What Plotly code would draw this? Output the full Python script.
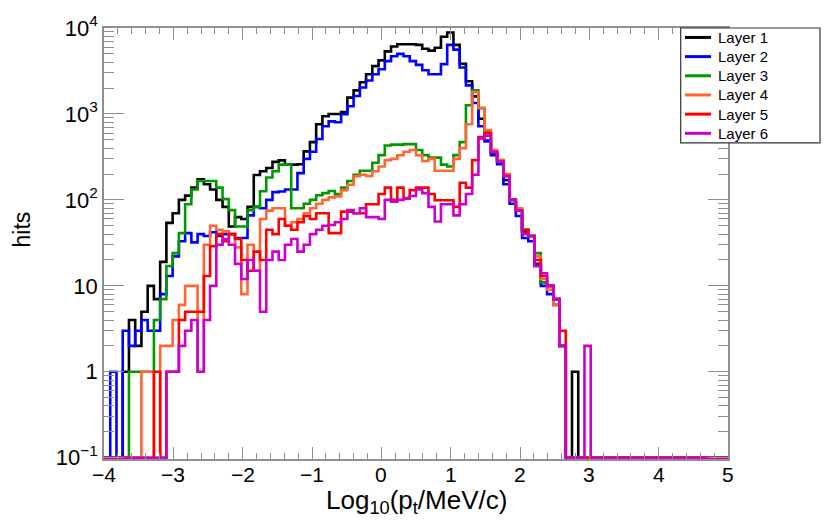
import plotly.graph_objects as go

# ---------------- data ----------------
X_MIN, X_MAX, N_BINS = -4.0, 5.0, 100
layer_names = ["Layer 1", "Layer 2", "Layer 3", "Layer 4", "Layer 5", "Layer 6"]
layer_colors = ["#000000", "#0000ff", "#009900", "#ff6633", "#ff0000", "#cc00cc"]

layer1 = [0, 0, 0, 1, 4, 2, 5, 10, 7, 19,
          54, 70, 100, 112, 139, 174, 152, 132, 100, 83,
          49, 63, 60, 83, 195, 215, 235, 277, 288, 257,
          257, 260, 367, 470, 760, 940, 1000, 1000, 1050, 1550,
          1880, 2340, 2900, 3600, 4200, 5350, 6100, 6470, 6470, 6470,
          6360, 5730, 5450, 5900, 7900, 8850, 6360, 3840, 2400, 1600,
          880, 490, 350, 283, 170, 100, 75, 43, 38, 18,
          11, 10, 7, 2, 0, 1, 0, 0, 0, 0,
          0, 0, 0, 0, 0, 0, 0, 0, 0, 0,
          0, 0, 0, 0, 0, 0, 0, 0, 0, 0]
layer2 = [0, 1, 0, 3, 2, 3, 4, 3, 3, 8,
          13, 22, 33, 41, 32, 40, 38, 42, 38, 40,
          40, 36, 36, 66, 83, 80, 100, 123, 125, 132,
          132, 205, 300, 363, 510, 720, 820, 800, 990, 1230,
          1620, 2030, 2450, 2900, 3310, 4120, 4700, 5000, 4700, 4120,
          3720, 3230, 2900, 2900, 3800, 6360, 5600, 3470, 2150, 1340,
          720, 480, 330, 260, 152, 90, 65, 36, 33, 17,
          10, 8, 6, 2, 0, 0, 0, 0, 0, 0,
          0, 0, 0, 0, 0, 0, 0, 0, 0, 0,
          0, 0, 0, 0, 0, 0, 0, 0, 0, 0]
layer3 = [0, 0, 0, 0, 1, 1, 1, 1, 4, 7,
          17, 24, 41, 89, 132, 166, 166, 166, 139, 102,
          76, 49, 49, 76, 83, 126, 182, 215, 257, 257,
          80, 80, 90, 100, 113, 120, 127, 117, 139, 166,
          196, 218, 218, 270, 332, 430, 440, 440, 445, 445,
          380, 332, 310, 310, 257, 245, 332, 470, 1260, 1880,
          1170, 630, 360, 290, 190, 100, 75, 45, 38, 24,
          11, 10, 7, 2, 0, 0, 0, 0, 0, 0,
          0, 0, 0, 0, 0, 0, 0, 0, 0, 0,
          0, 0, 0, 0, 0, 0, 0, 0, 0, 0]
layer4 = [0, 0, 0, 0, 0, 0, 1, 1, 0, 2,
          2, 4, 6, 10, 10, 1, 30, 50, 45, 43,
          40, 28, 8, 30, 15, 60, 75, 80, 80, 50,
          55, 60, 70, 80, 90, 100, 107, 110, 130, 150,
          188, 196, 190, 215, 245, 290, 300, 330, 363, 380,
          330, 283, 300, 218, 218, 218, 300, 400, 760, 1800,
          1170, 650, 380, 290, 200, 100, 80, 45, 38, 22,
          12, 9, 6, 2, 0, 0, 0, 0, 0, 0,
          0, 0, 0, 0, 0, 0, 0, 0, 0, 0,
          0, 0, 0, 0, 0, 0, 0, 0, 0, 0]
layer5 = [0, 0, 0, 0, 0, 0, 0, 0, 1, 0,
          1, 1, 4, 5, 5, 5, 13, 29, 40, 33,
          40, 35, 20, 15, 25, 20, 45, 40, 60, 50,
          45, 55, 65, 60, 70, 70, 41, 41, 73, 73,
          70, 70, 89, 89, 117, 139, 100, 139, 105, 130,
          139, 139, 117, 99, 99, 99, 83, 158, 139, 290,
          540, 600, 360, 280, 190, 100, 75, 45, 38, 20,
          13, 10, 7, 3, 0, 0, 0, 0, 0, 0,
          0, 0, 0, 0, 0, 0, 0, 0, 0, 0,
          0, 0, 0, 0, 0, 0, 0, 0, 0, 0]
layer6 = [0, 0, 0, 0, 0, 0, 0, 0, 0, 0,
          1, 1, 2, 3, 4, 1, 4, 10, 30, 35,
          30, 18, 12, 20, 15, 5, 20, 25, 20, 30,
          35, 25, 30, 40, 45, 50, 51, 55, 60, 76,
          70, 80, 63, 63, 60, 100, 95, 100, 103, 111,
          132, 120, 83, 56, 89, 89, 66, 89, 117, 196,
          515, 560, 360, 280, 190, 100, 75, 40, 38, 17,
          14, 10, 7, 2, 0, 0, 0, 2, 0, 0,
          0, 0, 0, 0, 0, 0, 0, 0, 0, 0,
          0, 0, 0, 0, 0, 0, 0, 0, 0, 0]

y_tick_vals = [0.1, 1, 10, 100, 1000, 10000]
y_tick_text = ["10<sup>\u22121</sup>", "1", "10", "10<sup>2</sup>", "10<sup>3</sup>", "10<sup>4</sup>"]
x_tick_vals = [-4, -3, -2, -1, 0, 1, 2, 3, 4, 5]
x_tick_text = ["\u22124", "\u22123", "\u22122", "\u22121", "0", "1", "2", "3", "4", "5"]

# ---------------- figure ----------------
FLOOR = 0.1  # empty bins are drawn on the frame bottom, as ROOT does
bin_w = (X_MAX - X_MIN) / N_BINS
edges = [X_MIN + i * bin_w for i in range(N_BINS + 1)]

FONT = "Liberation Sans, Arial, Helvetica, sans-serif"
AXC = "#8f8f8f"

W, H = 831, 520
L, R, T, B = 104, 103, 16, 61.2
pw, ph = W - L - R, H - T - B


def px(xp):
    return (xp - L) / pw


def py(yp):
    return (H - B - yp) / ph


fig = go.Figure()
for name, color, counts in zip(layer_names, layer_colors,
                               [layer1, layer2, layer3, layer4, layer5, layer6]):
    ys = [c if c > 0 else FLOOR for c in counts]
    fig.add_trace(go.Scatter(
        x=edges, y=ys + [ys[-1]], mode="lines", name=name, showlegend=False,
        line=dict(shape="hv", color=color, width=2.6),
        hoverinfo="skip"))

fig.update_layout(
    width=W, height=H,
    margin=dict(l=L, r=R, t=T, b=B, pad=0),
    paper_bgcolor="white", plot_bgcolor="white",
    font=dict(family=FONT, color="black"),
    showlegend=False,
)
fig.update_xaxes(
    range=[X_MIN, X_MAX], showgrid=False, zeroline=False,
    showline=True, linecolor=AXC, linewidth=1.6, mirror="allticks",
    tickmode="array", tickvals=x_tick_vals, ticktext=x_tick_text,
    showticklabels=False,
    ticks="inside", ticklen=12, tickcolor=AXC, tickwidth=1.3,
    minor=dict(ticks="inside", dtick=0.2, tick0=-4, ticklen=6, tickcolor=AXC, tickwidth=1.3, showgrid=False),
)
fig.update_yaxes(
    type="log", range=[-1.015, 4.0], showgrid=False, zeroline=False,
    showline=True, linecolor=AXC, linewidth=1.6, mirror="allticks",
    tickmode="array", tickvals=y_tick_vals, ticktext=y_tick_text,
    ticks="inside", ticklen=20, tickcolor=AXC, tickwidth=1.3,
    tickfont=dict(size=22, family=FONT),
    minor=dict(ticks="inside", dtick="D1", ticklen=10, tickcolor=AXC, tickwidth=1.3, showgrid=False),
)

# x tick labels (placed closer to the axis, ROOT style)
for v, t in zip(x_tick_vals, x_tick_text):
    fig.add_annotation(text=t, x=v, xref="x", y=py(474.5), yref="paper", showarrow=False,
                       xanchor="center", yanchor="middle", font=dict(size=21, family=FONT))

# legend (ROOT TLegend box, covers the frame corner)
LEG_X0, LEG_X1, LEG_Y0, LEG_Y1 = 680.7, 820, 16, 134
fig.add_shape(type="rect", xref="paper", yref="paper", layer="above",
              x0=px(LEG_X0), x1=px(LEG_X1), y0=py(LEG_Y1), y1=py(LEG_Y0),
              line=dict(color="#333333", width=1.2), fillcolor="white")
row_y = [25.7, 45.4, 65.1, 84.8, 104.5, 124.2]
for name, color, ry in zip(layer_names, layer_colors, row_y):
    fig.add_shape(type="line", xref="paper", yref="paper", layer="above",
                  x0=px(685), x1=px(711), y0=py(ry), y1=py(ry),
                  line=dict(color=color, width=3))
    fig.add_annotation(text=name, xref="paper", yref="paper", showarrow=False,
                       x=px(716), y=py(ry), xanchor="left", yanchor="middle",
                       font=dict(size=15, family=FONT))

fig.add_annotation(text="hits", xref="paper", yref="paper", showarrow=False,
                   x=px(22), y=py(223), textangle=-90,
                   xanchor="center", yanchor="middle", font=dict(size=23, family=FONT))
fig.add_annotation(text="Log<sub>10</sub>(p<sub>t</sub>/MeV/c)", xref="paper", yref="paper",
                   showarrow=False, x=px(416), y=py(483.5), xanchor="center",
                   yanchor="top", font=dict(size=26, family=FONT))

fig.write_html("out.html")
